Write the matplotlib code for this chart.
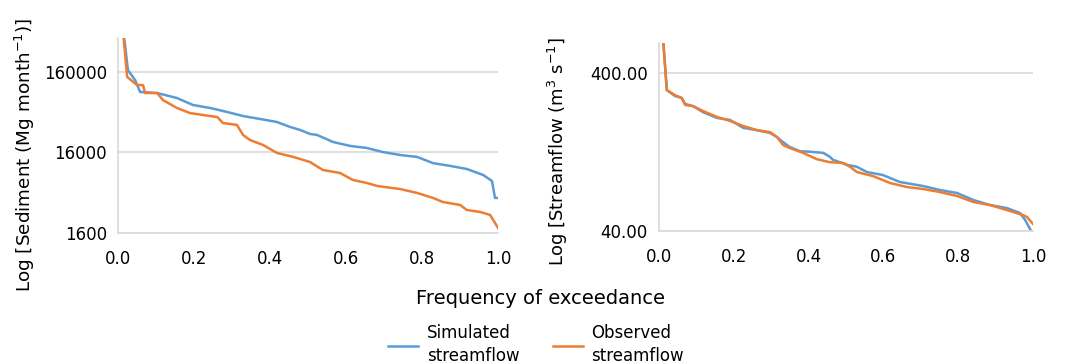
import matplotlib
matplotlib.use('Agg')
import matplotlib.pyplot as plt
from matplotlib.ticker import FixedLocator, FixedFormatter, NullLocator

# sediment (left panel)
sed_sim_x = [0.0, 0.026, 0.045, 0.058, 0.103, 0.155, 0.197, 0.242, 0.287, 0.329, 0.374, 0.418, 0.453,
             0.479, 0.505, 0.524, 0.566, 0.611, 0.655, 0.697, 0.742, 0.787, 0.829, 0.874, 0.918, 0.961,
             0.984, 0.992, 1.0]
sed_sim = [2000000, 169000, 127000, 90300, 87700, 76000, 62300, 57200, 51000, 45400, 41700, 38300, 33200,
           30500, 27200, 26400, 21600, 19300, 18200, 16200, 14900, 14100, 11800, 10900, 9980, 8400,
           7080, 4360, 4360]
sed_obs_x = [0.0, 0.024, 0.050, 0.066, 0.071, 0.103, 0.118, 0.155, 0.189, 0.242, 0.261, 0.276, 0.313,
             0.329, 0.347, 0.382, 0.418, 0.461, 0.505, 0.539, 0.584, 0.618, 0.655, 0.682, 0.742, 0.787,
             0.829, 0.855, 0.900, 0.918, 0.953, 0.979, 0.984, 1.0]
sed_obs = [2500000, 139000, 110000, 110000, 87700, 87700, 71800, 57200, 49500, 45400, 44200, 37200, 35200,
           26400, 22900, 19800, 15800, 14100, 12200, 9700, 8910, 7290, 6690, 6140, 5630, 5030,
           4360, 3880, 3570, 3090, 2920, 2680, 2460, 1850]

# streamflow (right panel)
q_sim_x = [0.0, 0.021, 0.043, 0.061, 0.070, 0.091, 0.118, 0.155, 0.190, 0.225, 0.262, 0.297, 0.316,
           0.332, 0.350, 0.377, 0.404, 0.439, 0.457, 0.465, 0.503, 0.529, 0.556, 0.599, 0.644, 0.706,
           0.751, 0.797, 0.840, 0.885, 0.930, 0.965, 0.979, 1.0]
q_sim = [1500, 312, 286, 278, 255, 247, 226, 208, 202, 180, 174, 167, 157,
         146, 136, 128, 127, 125, 118, 113, 105, 102, 94.5, 90.4, 81.7, 77.1,
         72.7, 69.6, 62.9, 58.4, 55.9, 52.0, 47.0, 38]
q_obs_x = [0.0, 0.021, 0.043, 0.061, 0.070, 0.091, 0.118, 0.155, 0.190, 0.225, 0.262, 0.297, 0.316,
           0.332, 0.350, 0.385, 0.422, 0.457, 0.492, 0.511, 0.529, 0.572, 0.618, 0.663, 0.706, 0.751,
           0.797, 0.840, 0.885, 0.930, 0.973, 0.984, 1.0]
q_obs = [1500, 312, 290, 278, 251, 247, 230, 211, 199, 185, 174, 169, 157,
         140, 134, 125, 114, 109, 108, 102, 94.5, 89.1, 80.5, 75.9, 73.8, 70.6,
         66.6, 61.1, 58.4, 54.3, 50.5, 49.1, 44.3]

sed_ticks = [1600, 16000, 160000]
q_ticks = [40, 400]
x_ticks = [0.0, 0.2, 0.4, 0.6, 0.8, 1.0]

blue = '#5b9bd5'
orange = '#ed7d31'
grid = '#d9d9d9'

plt.rcParams['font.family'] = 'DejaVu Sans'
fig = plt.figure(figsize=(10.72, 3.64), dpi=100)
ax1 = fig.add_axes([0.1101, 0.3599, 0.3545, 0.5357])
ax2 = fig.add_axes([0.6147, 0.3654, 0.3489, 0.5165])


def style(ax, ticks, labels, ylim):
    ax.set_yscale('log')
    ax.set_ylim(*ylim)
    ax.set_xlim(0, 1)
    ax.yaxis.set_major_locator(FixedLocator(ticks))
    ax.yaxis.set_major_formatter(FixedFormatter(labels))
    ax.yaxis.set_minor_locator(NullLocator())
    ax.set_xticks(x_ticks)
    ax.set_xticklabels(['%.1f' % t for t in x_ticks])
    ax.grid(axis='y', color=grid, lw=1.2)
    ax.set_axisbelow(True)
    for s in ['top', 'right']:
        ax.spines[s].set_visible(False)
    for s in ['left', 'bottom']:
        ax.spines[s].set_color(grid)
        ax.spines[s].set_linewidth(1.2)
    ax.tick_params(length=0, labelsize=12, colors='black')
    ax.tick_params(axis='x', pad=12)
    ax.tick_params(axis='y', pad=8)


ax1.plot(sed_sim_x, sed_sim, color=blue, lw=1.8)
ax1.plot(sed_obs_x, sed_obs, color=orange, lw=1.8)
style(ax1, sed_ticks, ['1600', '16000', '160000'], (1600, 423000))
ax1.set_ylabel('Log [Sediment (Mg month$^{-1}$)]', fontsize=13.2)
ax1.yaxis.set_label_coords(-0.213, 0.40)

l1, = ax2.plot(q_sim_x, q_sim, color=blue, lw=1.8)
l2, = ax2.plot(q_obs_x, q_obs, color=orange, lw=1.8)
style(ax2, q_ticks, ['40.00', '400.00'], (40, 620))
ax2.set_ylabel('Log [Streamflow (m$^3$ s$^{-1}$]', fontsize=13)
ax2.yaxis.set_label_coords(-0.238, 0.42)

fig.text(0.504, 0.179, 'Frequency of exceedance', ha='center', va='center', fontsize=14)
leg = fig.legend([l1, l2], ['Simulated\nstreamflow', 'Observed\nstreamflow'], loc='upper center',
                 bbox_to_anchor=(0.5, 0.128), ncol=2, frameon=False, fontsize=12,
                 handlelength=1.8, handletextpad=0.5, columnspacing=2.0, borderaxespad=0)
for t in leg.get_texts():
    t.set_linespacing(1.35)

fig.savefig('out.png', dpi=100)
